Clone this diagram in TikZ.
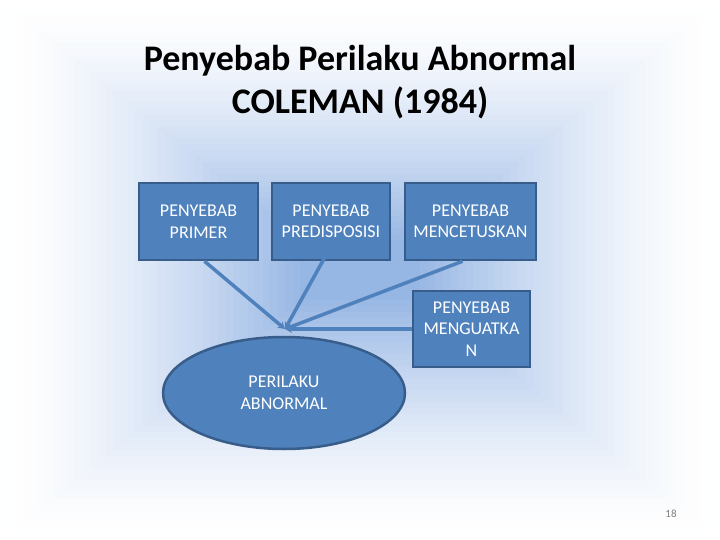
\documentclass[tikz,border=0pt]{standalone}
\usepackage{fontspec}
\setmainfont{Carlito}
\usetikzlibrary{shapes.geometric,arrows.meta}
\definecolor{bgblue}{RGB}{150,182,228}
\definecolor{boxblue}{RGB}{79,129,189}
\definecolor{boxedge}{RGB}{56,93,138}
\tikzset{
  causebox/.style={rectangle, fill=boxblue, draw=boxedge, line width=2.5pt,
    minimum width=119, minimum height=77, text=white, align=center,
    font=\fontsize{18}{21.5}\selectfont},
  link/.style={draw=boxblue, line width=3.5pt, -{Stealth[length=7pt,width=8pt]}}
}
\begin{document}
\begin{tikzpicture}[x=1pt, y=-1pt]
            % background
            \useasboundingbox (0,0) rectangle (720,540);
            \fill[white] (0,0) rectangle (720,540);
            \foreach \i in {0,...,40}{
              \pgfmathsetmacro\p{100*(\i/40)^1.5}
              \fill[bgblue!\p!white] (7.5*\i,6*\i) rectangle (720-7.5*\i,540-6*\i);
            }
            % title
            \node (title) at (360,82) [align=center, font=\fontsize{36}{43}\selectfont\bfseries]
                  {Penyebab Perilaku Abnormal\\COLEMAN (1984)};
            % causes
            \node (primer) at (198.5,221.5) [causebox] {PENYEBAB\\PRIMER};
            \node (predis) at (331,221.5) [causebox, minimum width=118] {PENYEBAB\\PREDISPOSISI};
            \node (cetus) at (470.5,221.5) [causebox, minimum width=131] {PENYEBAB\\MENCETUSKAN};
            \node (kuat) at (471.5,329) [causebox, minimum width=117, minimum height=76] {PENYEBAB\\MENGUATKA\\N};
            % effect
            \node (abnormal) at (284,393) [ellipse, fill=boxblue, draw=boxedge, line width=2.5pt,
                  minimum width=242, minimum height=112, text=white, align=center,
                  font=\fontsize{18}{21.5}\selectfont] {PERILAKU\\ABNORMAL};
            \coordinate (hub) at (285,329);
            \draw[link] ([xshift=6]primer.south) -- (hub);
            \draw[link] ([yshift=15]predis.south) -- (hub);
            \draw[link] ([xshift=-8]cetus.south) -- (hub);
            \draw[link] (kuat.west) -- (hub);
            % page number
            \node (page) at (671,514) [text=gray, font=\fontsize{11}{13}\selectfont] {18};
\end{tikzpicture}
\end{document}
